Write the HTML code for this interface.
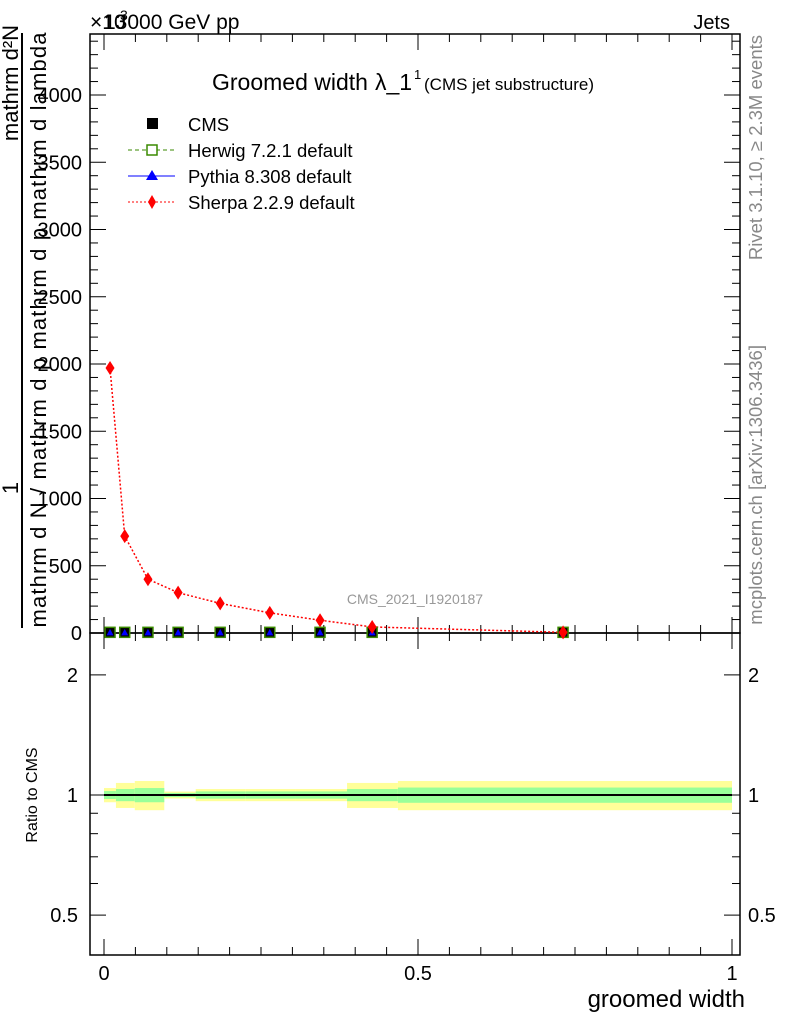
<!DOCTYPE html>
<html><head><meta charset="utf-8"><style>
body{margin:0;background:#fff;}
svg{font-family:"Liberation Sans",sans-serif;}
</style></head><body>
<svg id="c" width="786" height="1024" xmlns="http://www.w3.org/2000/svg">
<g id="g"></g>
</svg>
<script>
const xCenters=[0.0096,0.033,0.07,0.118,0.185,0.264,0.344,0.427,0.731];
const binEdges=[0,0.019,0.049,0.096,0.146,0.225,0.305,0.387,0.468,1.0];
const sherpaVals=[1970,720,400,300,220,150,95,45,5];
const cmsVals=[5,5,5,5,5,5,5,5,5];
const yellowErr=[0.041,0.072,0.084,0.02,0.035,0.035,0.035,0.072,0.084];
const greenErr=[0.023,0.035,0.041,0.012,0.021,0.021,0.021,0.035,0.044];
const mainTicks=[500,1000,1500,2000,2500,3000,3500,4000];
const ratioTicks=[0.5,1,2];
const xTicks=[0,0.5,1];

const NS="http://www.w3.org/2000/svg";
const g=document.getElementById('g');
const L=90,R=740,T=34,MB=633,RB=955;
const X=v=>104+v*628;
const Y=v=>633-v*0.1345;
const YR=r=>795-Math.log10(r)*399;
function el(t,a,txt){const e=document.createElementNS(NS,t);for(const k in a)e.setAttribute(k,a[k]);if(txt!==undefined)e.textContent=txt;g.appendChild(e);return e;}

for(let i=0;i<xCenters.length;i++){
 const x0=X(binEdges[i]),x1=X(binEdges[i+1]);
 let e=el('rect',{x:x0,y:YR(1+yellowErr[i]),width:x1-x0,height:YR(1-yellowErr[i])-YR(1+yellowErr[i]),fill:'#ffff99'});
 
 
 e=el('rect',{x:x0,y:YR(1+greenErr[i]),width:x1-x0,height:YR(1-greenErr[i])-YR(1+greenErr[i]),fill:'#99ff99'});
 
 
}
let e=el('line',{x1:X(0),x2:X(1),y1:YR(1),y2:YR(1),stroke:'#000','stroke-width':2});



e=el('rect',{x:L,y:T,width:R-L,height:MB-T,fill:'none',stroke:'#000','stroke-width':1.5});


e=el('rect',{x:L,y:MB,width:R-L,height:RB-MB,fill:'none',stroke:'#000','stroke-width':1.5});



for(let v=0;v<=4400;v+=100){
 const len=v%500===0?16:8;
 el('line',{x1:L,x2:L+len,y1:Y(v),y2:Y(v),stroke:'#000'});
 el('line',{x1:R,x2:R-len,y1:Y(v),y2:Y(v),stroke:'#000'});
}
mainTicks.forEach(v=>{const t=el('text',{x:82,y:Y(v)+7,'text-anchor':'end','font-size':20},v);
 
 });
e=el('text',{x:82,y:640,'text-anchor':'end','font-size':20},'0');
for(let v=0;v<=1.0001;v+=0.05){
 const big=Math.abs(v*2-Math.round(v*2))<1e-6;const len=big?16:8;
 [[MB,-1],[RB,-1],[T,1],[MB,1]].forEach(([y,d])=>el('line',{x1:X(v),x2:X(v),y1:y,y2:y+d*len,stroke:'#000'}));
}
xTicks.forEach(v=>{const t=el('text',{x:X(v),y:980,'text-anchor':'middle','font-size':20},v);
 
 });
[0.5,0.6,0.7,0.8,0.9,1,2].forEach(r=>{const len=(r===0.5||r===1||r===2)?16:8;
 el('line',{x1:L,x2:L+len,y1:YR(r),y2:YR(r),stroke:'#000'});
 el('line',{x1:R,x2:R-len,y1:YR(r),y2:YR(r),stroke:'#000'});});
ratioTicks.forEach(r=>{
 let t=el('text',{x:78,y:YR(r)+7,'text-anchor':'end','font-size':20},r);
 
 
 t=el('text',{x:748,y:YR(r)+7,'font-size':20},r);
 
 });

e=el('polyline',{points:xCenters.map((x,i)=>X(x)+','+Y(sherpaVals[i])).join(' '),fill:'none',stroke:'#f00','stroke-width':1.5,'stroke-dasharray':'2,2'});


xCenters.forEach((x,i)=>{
 const cx=X(x),cy=Y(cmsVals[i]);
 let m=el('rect',{x:cx-5,y:cy-5,width:10,height:10,fill:'#000',stroke:'#3a8a00','stroke-width':1.5});
 
 
 m=el('polygon',{points:`${cx},${cy-3.5} ${cx-3.5},${cy+3} ${cx+3.5},${cy+3}`,fill:'#00f'});
 
 
});
xCenters.forEach((x,i)=>{
 const cx=X(x),cy=Y(sherpaVals[i]);
 const m=el('polygon',{points:`${cx},${cy-7} ${cx+4.5},${cy} ${cx},${cy+7} ${cx-4.5},${cy}`,fill:'#f00'});
 
 
});

function txt(a,s,name){const t=el('text',a,s);return t;}
txt({x:104,y:29,'font-size':21},'13000 GeV pp','beam-label');
txt({x:90,y:29,'font-size':21},'×10','exponent-label');
txt({x:120,y:20,'font-size':14},'3','exponent-sup');
txt({x:730,y:29,'font-size':20,'text-anchor':'end'},'Jets','process-label');
txt({x:212,y:90,'font-size':23},'Groomed width','plot-title');
txt({x:375,y:90,'font-size':23},'λ_1','title-symbol');
txt({x:414,y:79,'font-size':13},'1','title-sup');
txt({x:424,y:90,'font-size':17},'(CMS jet substructure)','title-sub');
txt({x:415,y:604,'font-size':14,fill:'#999','text-anchor':'middle'},'CMS_2021_I1920187','analysis-label');
txt({x:745,y:1007,'font-size':24,'text-anchor':'end'},'groomed width','x-axis-title');
txt({x:0,y:0,'font-size':16,'text-anchor':'middle',transform:'translate(37,795) rotate(-90)'},'Ratio to CMS','ratio-y-title');
txt({x:0,y:0,'font-size':18.5,fill:'#888','text-anchor':'end',transform:'translate(762,35) rotate(-90)'},'Rivet 3.1.10, ≥ 2.3M events','rivet-label');
txt({x:0,y:0,'font-size':18.5,fill:'#888','text-anchor':'end',transform:'translate(762,345) rotate(-90)'},'mcplots.cern.ch [arXiv:1306.3436]','mcplots-label');
txt({x:0,y:0,'font-size':22,'text-anchor':'middle',transform:'translate(18,83) rotate(-90)'},'mathrm d²N','y-title-num');
txt({x:0,y:0,'font-size':22,'text-anchor':'middle',transform:'translate(18,488) rotate(-90)'},'1','y-title-one');
e=el('line',{x1:22,x2:22,y1:33,y2:628,stroke:'#000','stroke-width':2});


txt({x:0,y:0,'font-size':22,'text-anchor':'middle','textLength':595,transform:'translate(46,330) rotate(-90)'},'mathrm d N / mathrm d p mathrm d p mathrm d lambda','y-title-den');

const legY=[124,150,176,202];
const legNames=['CMS','Herwig 7.2.1 default','Pythia 8.308 default','Sherpa 2.2.9 default'];
legNames.forEach((n,i)=>{txt({x:188,y:legY[i]+7,'font-size':18.5},n,'legend-entry');});
e=el('rect',{x:147,y:118,width:11,height:11,fill:'#000'});

e=el('line',{x1:128,x2:175,y1:150,y2:150,stroke:'#3a8a00','stroke-dasharray':'4,3'});

e=el('rect',{x:147,y:145,width:10,height:10,fill:'#fff',stroke:'#3a8a00','stroke-width':1.5});

e=el('line',{x1:128,x2:175,y1:176,y2:176,stroke:'#00f'});

e=el('polygon',{points:'152,170 146,180 158,180',fill:'#00f'});

e=el('line',{x1:128,x2:175,y1:202,y2:202,stroke:'#f00','stroke-dasharray':'2,2'});

e=el('polygon',{points:'152,195 156,202 152,209 148,202',fill:'#f00'});

</script>
</body></html>
